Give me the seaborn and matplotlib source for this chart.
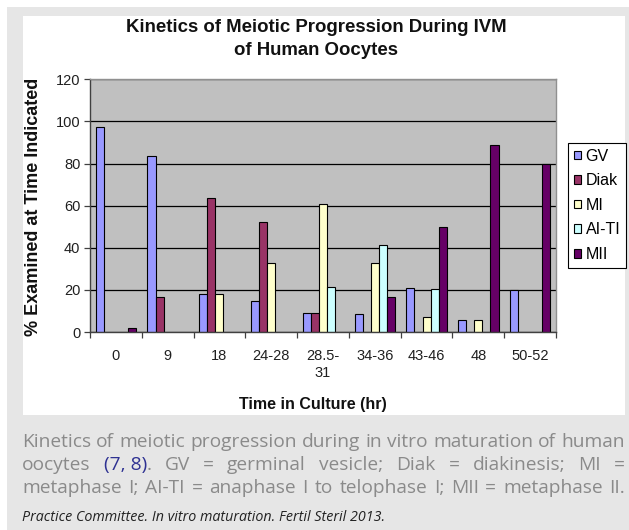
import numpy as np
import pandas as pd
import matplotlib
matplotlib.use("Agg")
import matplotlib.pyplot as plt
import seaborn as sns
from matplotlib.patches import Rectangle

# Datos (porcentaje examinado en cada tiempo)
tiempos = ["0", "9", "18", "24-28", "28.5-\n31", "34-36", "43-46", "48", "50-52"]
estadios = ["GV", "Diak", "MI", "AI-TI", "MII"]
gv = [97.5, 83.5, 18, 14.5, 9, 8.5, 21, 5.5, 20]
diak = [np.nan, 16.5, 63.5, 52, 9, np.nan, np.nan, np.nan, np.nan]
mi = [np.nan, np.nan, 18, 33, 61, 33, 7, 5.5, np.nan]
ai_ti = [np.nan, np.nan, np.nan, np.nan, 21.5, 41.5, 20.5, np.nan, np.nan]
mii = [2, np.nan, np.nan, np.nan, np.nan, 16.5, 50, 89, 80]
colores = ["#9999FF", "#993366", "#FFFFCC", "#CCFFFF", "#660066"]

df = pd.DataFrame({"GV": gv, "Diak": diak, "MI": mi, "AI-TI": ai_ti, "MII": mii}, index=tiempos)
df_largo = df.reset_index(names="tiempo").melt(id_vars="tiempo", var_name="estadio", value_name="pct")

W, H = 629, 530
fig = plt.figure(figsize=(W / 100, H / 100), dpi=100)
fig.patch.set_facecolor("white")

# Fondo gris exterior y panel blanco
fig.patches.append(Rectangle((7 / W, 0), 1 - 7 / W, 1 - 7 / H, transform=fig.transFigure,
                             facecolor="#e6e6e6", edgecolor="none", zorder=-10))
fig.patches.append(Rectangle((23 / W, 1 - 415 / H), 602 / W, 399 / H, transform=fig.transFigure,
                             facecolor="white", edgecolor="none", zorder=-9))

ax = fig.add_axes([90 / W, 1 - 332 / H, 466 / W, 252.7 / H])
sns.barplot(data=df_largo, x="tiempo", y="pct", hue="estadio", hue_order=estadios,
            order=tiempos, palette=colores, saturation=1, width=0.78,
            edgecolor="black", linewidth=0.8, ax=ax)

ax.set_facecolor("#c0c0c0")
ax.set_xlim(-0.5, 8.5)
ax.set_ylim(0, 120)
ax.set_yticks(range(0, 121, 20))
ax.set_axisbelow(True)
ax.yaxis.grid(True, color="black", linewidth=0.9)
ax.set_xlabel("")
ax.set_ylabel("")

fuente = "Liberation Sans"
ax.tick_params(axis="y", length=4, width=0.9, color="#404040", labelsize=10.5, pad=3)
ax.tick_params(axis="x", which="major", length=0, labelsize=10.5, pad=12)
ax.set_xticks(np.arange(-0.5, 9, 1), minor=True)
ax.tick_params(axis="x", which="minor", length=4, width=0.9, color="#404040")
for lab in ax.get_xticklabels() + ax.get_yticklabels():
    lab.set_fontfamily(fuente)
    lab.set_color("#202020")
for lab in ax.get_xticklabels():
    lab.set_linespacing(1.3)

for s in ["left", "bottom"]:
    ax.spines[s].set_color("#404040")
    ax.spines[s].set_linewidth(1)
for s in ["top", "right"]:
    ax.spines[s].set_color("#909090")
    ax.spines[s].set_linewidth(1)

# Leyenda fuera del area del grafico
handles, labels = ax.get_legend_handles_labels()
ax.get_legend().remove()
leg = fig.legend(handles, labels, loc="upper left", bbox_to_anchor=(568 / W, 1 - 143 / H),
                 frameon=True, fancybox=False, edgecolor="black", framealpha=1,
                 prop={"family": fuente, "size": 11.5}, handlelength=0.45, handleheight=0.45,
                 handletextpad=0.3, labelspacing=0.6, borderpad=0.35, borderaxespad=0)
leg.get_frame().set_linewidth(0.8)

# Titulos
fig.text(316 / W, 1 - 39 / H, "Kinetics of Meiotic Progression During IVM\nof Human Oocytes",
         ha="center", va="center", fontsize=13.4, fontweight="bold", family=fuente,
         color="#111111", linespacing=1.5)
fig.text(34 / W, 1 - 207 / H, "% Examined at Time Indicated", rotation=90, ha="center",
         va="center", fontsize=13, fontweight="bold", family=fuente, color="#111111")
fig.text(313 / W, 1 - 405 / H, "Time in Culture (hr)", ha="center", va="center",
         fontsize=11.5, fontweight="bold", family=fuente, color="#111111")

# Pie de figura justificado
gris = "#8a8a8a"
azul = "#2e3192"
renderer = fig.canvas.get_renderer()
lineas = [
    [[("Kinetics", gris)], [("of", gris)], [("meiotic", gris)], [("progression", gris)],
     [("during", gris)], [("in", gris)], [("vitro", gris)], [("maturation", gris)],
     [("of", gris)], [("human", gris)]],
    [[("oocytes", gris)], [("(7, 8)", azul), (".", gris)], [("GV", gris)], [("=", gris)],
     [("germinal", gris)], [("vesicle;", gris)], [("Diak", gris)], [("=", gris)],
     [("diakinesis;", gris)], [("MI", gris)], [("=", gris)]],
    [[("metaphase", gris)], [("I;", gris)], [("AI-TI", gris)], [("=", gris)],
     [("anaphase", gris)], [("I", gris)], [("to", gris)], [("telophase", gris)],
     [("I;", gris)], [("MII", gris)], [("=", gris)], [("metaphase", gris)], [("II.", gris)]],
]
bases = [447, 470, 493]
x0, x1 = 22, 625

# tamaño de letra para que la primera linea ocupe el ancho natural
prueba = fig.text(0, 0, " ".join(p[0][0] for p in lineas[0]), fontsize=10, family="Open Sans")
tam = 10 * (x1 - x0) / prueba.get_window_extent(renderer).width
prueba.remove()

for palabras, yb in zip(lineas, bases):
    grupos = []
    total = 0
    for palabra in palabras:
        piezas = []
        for s, c in palabra:
            t = fig.text(0, 1 - yb / H, s, color=c, fontsize=tam, family="Open Sans",
                         ha="left", va="baseline")
            w = t.get_window_extent(renderer).width
            piezas.append((t, w))
            total += w
        grupos.append(piezas)
    hueco = (x1 - x0 - total) / (len(grupos) - 1)
    x = x0
    for piezas in grupos:
        for t, w in piezas:
            t.set_x(x / W)
            x += w
        x += hueco

fig.text(22 / W, 1 - 521 / H, "Practice Committee. In vitro maturation. Fertil Steril 2013.",
         fontsize=10.3, style="italic", family="Open Sans", color="#222222",
         ha="left", va="baseline")

fig.savefig("out.png", dpi=100, facecolor=fig.get_facecolor())
